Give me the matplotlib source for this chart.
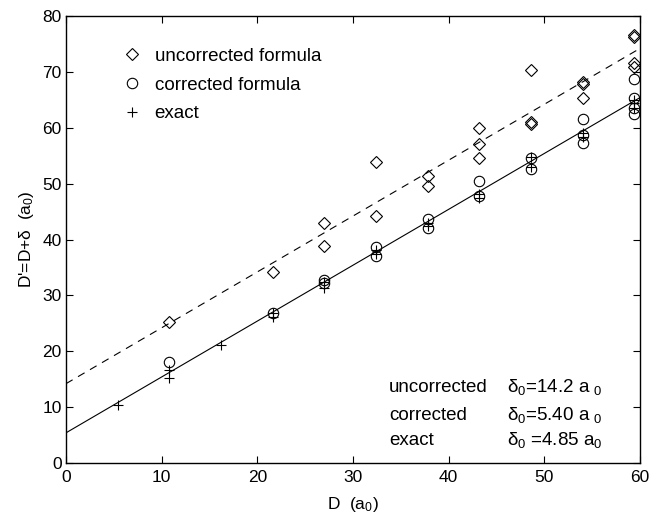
import numpy as np
import matplotlib.pyplot as plt

plt.rcParams['font.family'] = ['Liberation Sans', 'DejaVu Sans']
plt.rcParams['mathtext.fontset'] = 'custom'
plt.rcParams['mathtext.rm'] = 'Liberation Sans'
plt.rcParams['mathtext.it'] = 'Liberation Sans:italic'
plt.rcParams['mathtext.default'] = 'regular'
plt.rcParams['lines.scale_dashes'] = False

# uncorrected formula (diamonds)
unc_D = [10.8, 21.6, 27.0, 27.0, 32.4, 32.4, 37.8, 37.8, 43.2, 43.2, 43.2,
         48.6, 48.6, 48.6, 54.0, 54.0, 54.0, 59.4, 59.4, 59.4, 59.4]
unc_Dp = [25.2, 34.1, 42.9, 38.8, 53.9, 44.2, 51.4, 49.6, 59.9, 57.1, 54.5,
          70.3, 61.0, 60.7, 68.2, 67.8, 65.4, 76.6, 76.2, 71.6, 70.9]

# corrected formula (circles)
cor_D = [10.8, 21.6, 27.0, 27.0, 32.4, 32.4, 37.8, 37.8, 43.2, 43.2,
         48.6, 48.6, 54.0, 54.0, 54.0, 59.4, 59.4, 59.4, 59.4]
cor_Dp = [18.0, 26.8, 32.7, 32.3, 38.6, 37.0, 43.7, 42.0, 50.5, 47.7,
          54.5, 52.7, 61.6, 58.7, 57.3, 68.7, 65.4, 63.5, 62.4]

# exact (plus)
ex_D = [5.4, 10.8, 10.8, 16.2, 21.6, 21.6, 27.0, 27.0, 32.4, 32.4, 37.8, 37.8,
        43.2, 43.2, 48.6, 48.6, 54.0, 54.0, 59.4, 59.4, 59.4]
ex_Dp = [10.4, 16.6, 15.2, 21.1, 26.8, 26.2, 32.4, 31.3, 38.1, 37.4, 43.0, 42.5,
         48.1, 47.4, 54.8, 53.0, 59.0, 58.4, 65.0, 64.4, 63.5]

# fitted shifts D' = D + delta0
delta_unc = 14.2
delta_cor = 5.40
fit_D = np.array([0.0, 60.0])

fig = plt.figure(figsize=(6.49, 5.21), dpi=100)
ax = fig.add_axes([66/649, 58/521, 574/649, 447/521])

ax.plot(fit_D, fit_D + delta_unc, color='k', lw=0.8, ls='--', dashes=(5.5, 4.5))
ax.plot(fit_D, fit_D + delta_cor, color='k', lw=0.8)

ax.plot(unc_D, unc_Dp, ls='none', marker='D', ms=6.0, mfc='none', mec='k', mew=0.8,
        label='uncorrected formula')
ax.plot(cor_D, cor_Dp, ls='none', marker='o', ms=7.5, mfc='none', mec='k', mew=0.8,
        label='corrected formula')
ax.plot(ex_D, ex_Dp, ls='none', marker='+', ms=7.5, mec='k', mew=0.8,
        label='exact')

ax.set_xlim(0, 60)
ax.set_ylim(0, 80)
ax.set_xticks(np.arange(0, 61, 10))
ax.set_yticks(np.arange(0, 81, 10))
ax.tick_params(direction='in', length=5, width=0.8, top=True, right=True,
               labelsize=12.5)
ax.tick_params(axis='x', pad=5)
ax.tick_params(axis='y', pad=3)
for s in ax.spines.values():
    s.set_linewidth(1.0)

ax.set_xlabel(r'D  (a$_0$)', fontsize=12.5, labelpad=7)
ax.set_ylabel(r"D'=D+$\delta$  (a$_0$)", fontsize=12.5, labelpad=5)

ax.legend(loc='upper left', bbox_to_anchor=(0.098, 0.929), frameon=False,
          fontsize=13.5, borderpad=0, borderaxespad=0, handlelength=1.0,
          handletextpad=0.72, labelspacing=0.62)

names = ['uncorrected', 'corrected', 'exact']
deltas = [r'$\delta_0$=14.2 a ${}_0$', r'$\delta_0$=5.40 a ${}_0$', r'$\delta_0$ =4.85 a${}_0$']
rows_y = [0.1595, 0.0962, 0.0403]
for n, d, y in zip(names, deltas, rows_y):
    ax.text(0.563, y, n, transform=ax.transAxes, fontsize=13.5, va='baseline')
    ax.text(0.768, y, d, transform=ax.transAxes, fontsize=13.5, va='baseline')

fig.savefig('out.png', dpi=100)
